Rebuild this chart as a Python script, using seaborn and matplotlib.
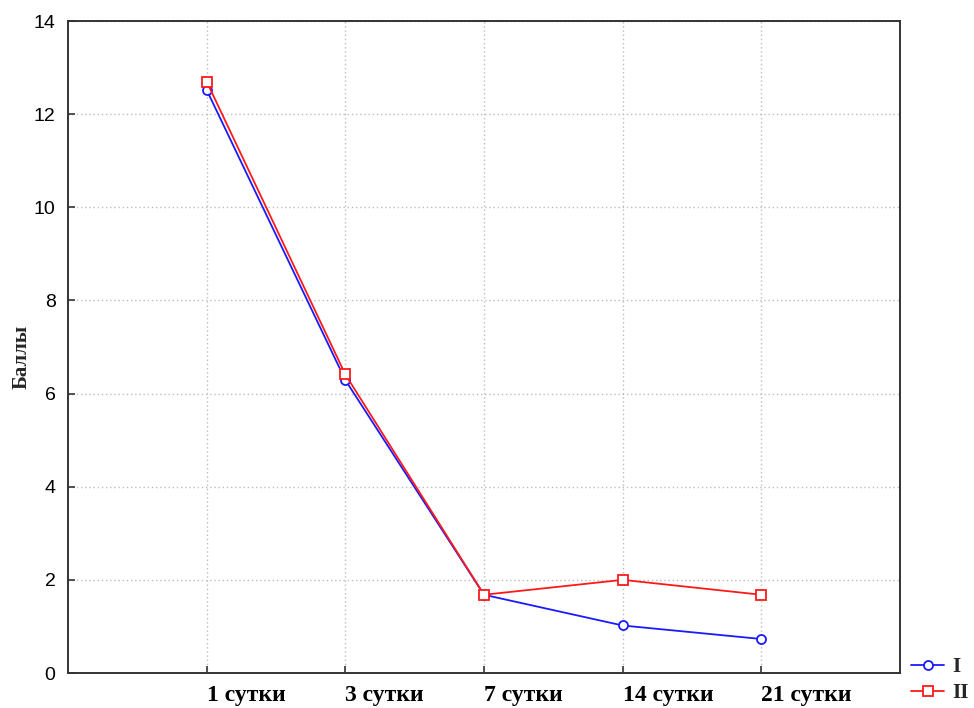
import matplotlib
matplotlib.use("Agg")
import matplotlib.pyplot as plt
import matplotlib.transforms as mtransforms
from matplotlib.lines import Line2D
import seaborn as sns
import pandas as pd

days = ["1 сутки", "3 сутки", "7 сутки", "14 сутки", "21 сутки"]
group_i = [12.52, 6.29, 1.68, 1.02, 0.73]
group_ii = [12.70, 6.41, 1.68, 2.00, 1.68]
groups = ["I", "II"]
y_ticks = [0, 2, 4, 6, 8, 10, 12, 14]

df = pd.DataFrame({
    "day": days * 2,
    "score": group_i + group_ii,
    "group": [groups[0]] * len(days) + [groups[1]] * len(days),
})

sns.set_theme(style="white")
plt.rcParams["font.family"] = ["Liberation Sans", "DejaVu Sans"]

fig = plt.figure(figsize=(9.74, 7.08), dpi=100)
ax = fig.add_axes([68 / 974, 1 - 673 / 708, (900 - 68) / 974, (673 - 21) / 708])

colors = {"I": "#1a1aff", "II": "#ff1a1a"}
markers = {"I": "o", "II": "s"}
sns.lineplot(data=df, x="day", y="score", hue="group", palette=colors,
             linewidth=1.3, sort=False, legend=False, ax=ax)

handles = []
for line, g in zip(ax.lines, groups):
    line.set_marker(markers[g])
    line.set_markersize(7 if g == "II" else 6.5)
    line.set_markerfacecolor("white")
    line.set_markeredgecolor(colors[g])
    line.set_markeredgewidth(1.3)
    line.set_linestyle("-")
    line.set_zorder(3)
    handles.append(Line2D([], [], color=colors[g], linewidth=1.3, marker=markers[g],
                          markersize=line.get_markersize(), markerfacecolor="white",
                          markeredgecolor=colors[g], markeredgewidth=1.3))

ax.set_xlim(-1, 5)
ax.set_ylim(0, 14)
ax.set_yticks(y_ticks)
ax.set_xticks(range(len(days)))
label_size = 17
ax.set_xticklabels(days, family="Liberation Serif", fontweight="bold",
                   fontsize=label_size, ha="left")
# centre the day number under its tick, the word "сутки" trails to the right
for lab, text in zip(ax.get_xticklabels(), days):
    n_digits = len(text.split()[0])
    shift = -0.25 * label_size * n_digits / 72.0
    lab.set_transform(lab.get_transform() +
                      mtransforms.ScaledTranslation(shift, 0, fig.dpi_scale_trans))
for lab in ax.get_yticklabels():
    lab.set_fontsize(14)
    lab.set_family("Liberation Sans")

ax.grid(True, color="#bdbdbd", linestyle=(0, (1, 2)), linewidth=1.0)
for sp in ax.spines.values():
    sp.set_visible(True)
    sp.set_color("#333333")
    sp.set_linewidth(1.4)
ax.tick_params(direction="in", length=5, width=1.2, color="#333333",
               bottom=True, left=True, pad=9, labelcolor="black")
ax.tick_params(axis="x", pad=9)

ax.set_xlabel("")
ax.set_ylabel("Баллы", family="Liberation Serif", fontweight="bold", fontsize=15)
ax.yaxis.set_label_coords(-0.044, 0.485)

fig.legend(handles, groups, loc="center left", bbox_to_anchor=(911 / 974, 28 / 708),
           frameon=False, handlelength=1.6, borderpad=0,
           prop={"family": "Liberation Serif", "weight": "bold", "size": 15},
           labelspacing=0.3, handletextpad=0.4, borderaxespad=0)

fig.savefig("out.png", dpi=100)
